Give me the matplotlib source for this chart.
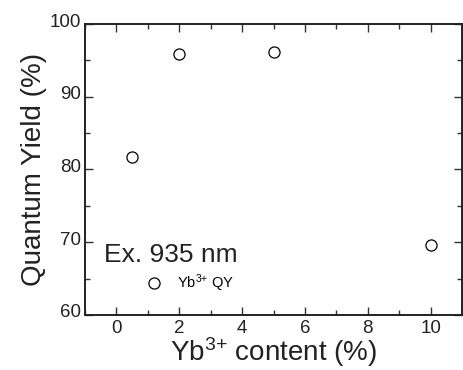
import matplotlib
matplotlib.use("Agg")
import matplotlib.pyplot as plt
import matplotlib.transforms as mtransforms
from matplotlib.ticker import MultipleLocator

plt.rcParams['font.family'] = ['Liberation Sans', 'DejaVu Sans']
plt.rcParams['mathtext.fontset'] = 'custom'
plt.rcParams['mathtext.rm'] = 'Liberation Sans'
plt.rcParams['mathtext.default'] = 'regular'

# data
yb_content = [0.5, 2, 5, 10]
qy = [81.7, 95.9, 96.2, 69.6]

fig = plt.figure(figsize=(4.64, 3.70), dpi=100)
ax = fig.add_axes([0.183, 0.149, 0.813, 0.786])

ax.plot(yb_content, qy, 'o', mfc='white', mec='black', ms=8, mew=0.9,
        linestyle='none', label=r'Yb$^{3{+}}$ QY')

ax.set_xlim(-1, 11)
ax.set_ylim(60, 100)
ax.xaxis.set_major_locator(MultipleLocator(2))
ax.xaxis.set_minor_locator(MultipleLocator(1))
ax.yaxis.set_major_locator(MultipleLocator(10))
ax.yaxis.set_minor_locator(MultipleLocator(5))
ax.tick_params(which='both', direction='in', top=True, right=True,
               labelsize=13.5, width=1, color='#333333', labelcolor='#222222')
ax.tick_params(which='major', length=6)
ax.tick_params(which='minor', length=3.5)
ax.tick_params(axis='y', pad=3)
for s in ax.spines.values():
    s.set_linewidth(1.4)
    s.set_color('#222222')

# y tick labels sit a bit above their ticks in the original
shift = mtransforms.ScaledTranslation(0, 4 / 100, fig.dpi_scale_trans)
for lab in ax.get_yticklabels():
    lab.set_transform(lab.get_transform() + shift)

ax.set_xlabel(r'Yb$^{3{+}}$ content (%)', fontsize=20, color='#222222', labelpad=-1)
ax.set_ylabel('Quantum Yield (%)', fontsize=20, color='#222222', labelpad=2)

ax.text(0.05, 0.205, 'Ex. 935 nm', transform=ax.transAxes, fontsize=19,
        color='#222222', va='center')
ax.legend(loc='lower left', bbox_to_anchor=(0.11, 0.025), frameon=False,
          fontsize=10.5, handletextpad=0.6)

fig.savefig('out.png', dpi=100)
